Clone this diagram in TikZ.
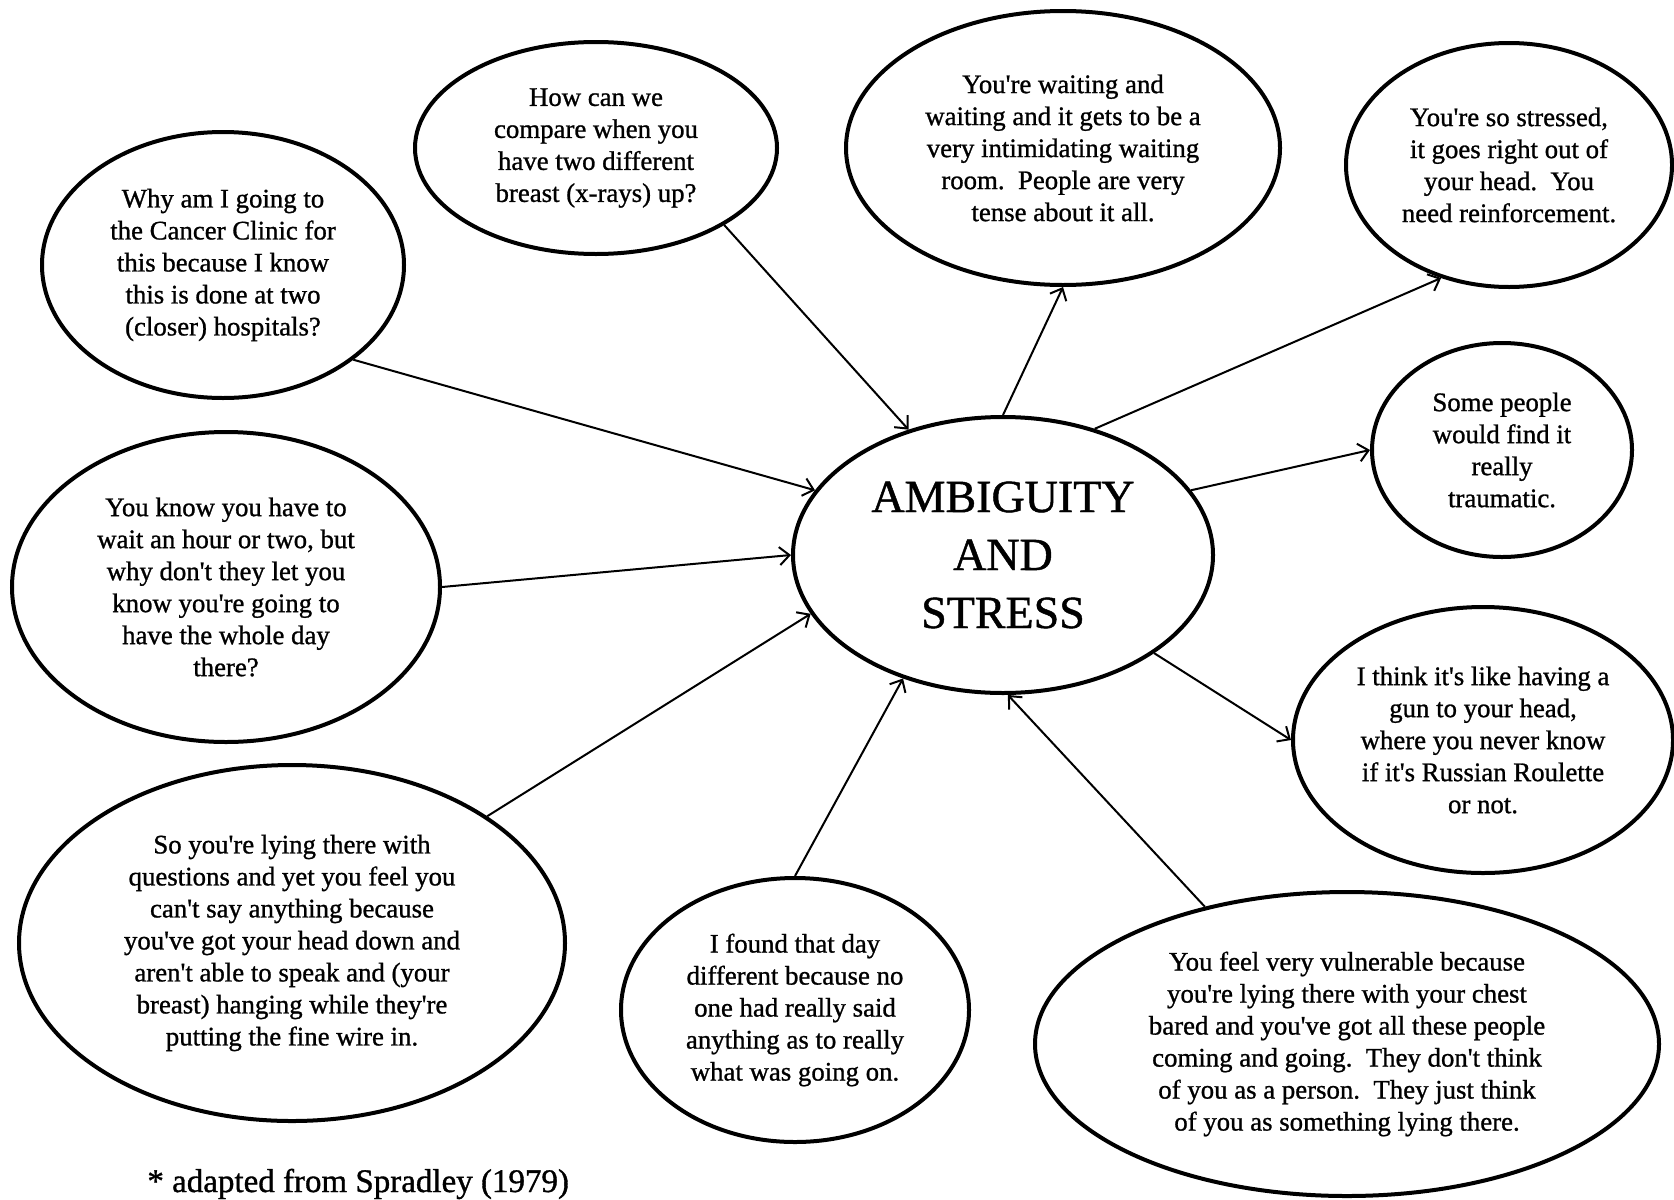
\documentclass[tikz,border=0pt]{standalone}
\usepackage{fontspec}
\setmainfont{Liberation Serif}[FakeBold=1]
\usetikzlibrary{arrows.meta,shapes.geometric}
% straight typewriter-style apostrophe
\newcommand{\q}{\textquotesingle}

\begin{document}
\begin{tikzpicture}[x=0.5pt,y=-0.5pt,
  bubble/.style={ellipse, draw, line width=2pt, inner sep=0pt, align=center,
    font=\fontsize{13.4}{16}\selectfont},
  link/.style={line width=1pt, -{Straight Barb[length=5pt,width=9pt,line width=1pt]}}
]
\useasboundingbox (0,0) rectangle (1674,1199);

% central theme
\node[bubble, minimum width=210pt, minimum height=138pt,
      font=\fontsize{23}{29}\selectfont] (hub) at (1003,555)
  {AMBIGUITY\\AND\\STRESS};

% surrounding quotations
\node[bubble, minimum width=181pt, minimum height=133pt] (why) at (223,265)
  {Why am I going to\\the Cancer Clinic for\\this because I know\\this is done at two\\(closer) hospitals?};
\node[bubble, minimum width=181pt, minimum height=106pt] (how) at (596,148)
  {How can we\\compare when you\\have two different\\breast (x-rays) up?};
\node[bubble, minimum width=217pt, minimum height=137pt] (wait) at (1063,148)
  {You\q re waiting and\\waiting and it gets to be a\\very intimidating waiting\\room.\ \ People are very\\tense about it all.};
\node[bubble, minimum width=163pt, minimum height=122pt] (stress) at (1509,165)
  {You\q re so stressed,\\it goes right out of\\your head.\ \ You\\need reinforcement.};
\node[bubble, minimum width=130pt, minimum height=107pt] (some) at (1502,450)
  {Some people\\would find it\\really\\traumatic.};
\node[bubble, minimum width=190pt, minimum height=133pt] (think) at (1483,740)
  {I think it\q s like having a\\gun to your head,\\where you never know\\if it\q s Russian Roulette\\or not.};
\node[bubble, minimum width=312pt, minimum height=152pt] (feel) at (1347,1044)
  {You feel very vulnerable because\\you\q re lying there with your chest\\bared and you\q ve got all these people\\coming and going.\ \ They don\q t think\\of you as a person.\ \ They just think\\of you as something lying there.};
\node[bubble, minimum width=174pt, minimum height=132pt] (found) at (795,1010)
  {I found that day\\different because no\\one had really said\\anything as to really\\what was going on.};
\node[bubble, minimum width=273pt, minimum height=178pt] (lying) at (292,943)
  {So you\q re lying there with\\questions and yet you feel you\\can\q t say anything because\\you\q ve got your head down and\\aren\q t able to speak and (your\\breast) hanging while they\q re\\putting the fine wire in.};
\node[bubble, minimum width=214pt, minimum height=155pt] (know) at (226,587)
  {You know you have to\\wait an hour or two, but\\why don\q t they let you\\know you\q re going to\\have the whole day\\there?};

% source note
\node[anchor=base west, inner sep=0pt, font=\fontsize{16.5}{20}\selectfont] (src) at (147,1192)
  {* adapted from Spradley (1979)};

% connectors
\draw[link] (why.-36) -- (hub.161);
\draw[link] (how.-31) -- (hub.127);
\draw[link] (hub.90) -- (wait.-90);
\draw[link] (hub.54) -- (stress.-121);
\draw[link] (hub.19) -- (some.180);
\draw[link] (hub.-33) -- (think.180);
\draw[link] (feel.136) -- (hub.-88);
\draw[link] (found.90) -- (hub.-129);
\draw[link] (lying.33) -- (hub.-163);
\draw[link] (know.0) -- (hub.180);
\end{tikzpicture}
\end{document}
